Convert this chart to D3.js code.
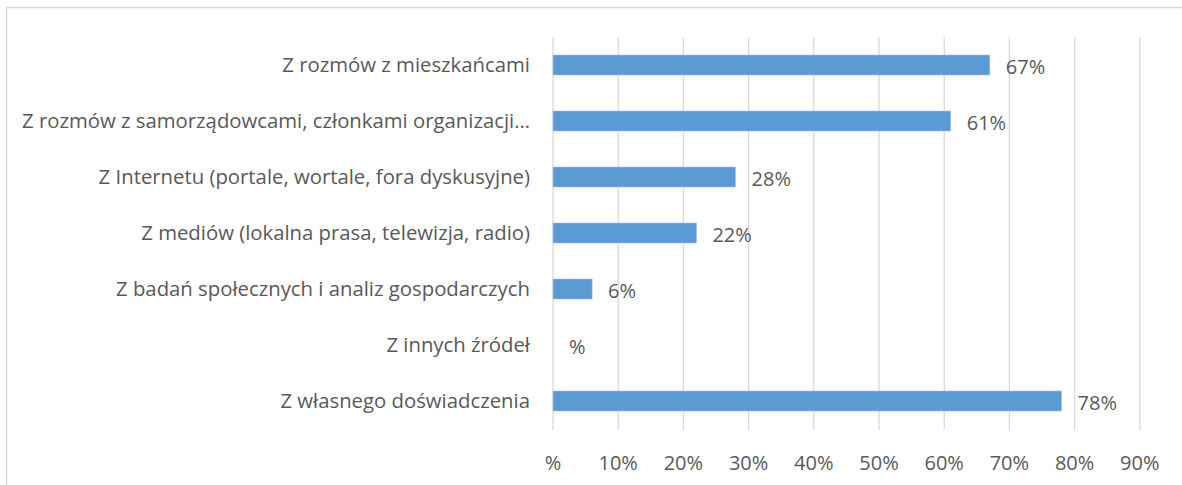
<!DOCTYPE html>
<html>
<head>
<meta charset="utf-8">
<script src="https://cdn.jsdelivr.net/npm/d3@7"></script>
<style>
  html, body { margin: 0; padding: 0; background: #fff; }
  svg text { font-family: "Open Sans", "Noto Sans", sans-serif; fill: #595959; }
</style>
</head>
<body>
<div id="chart"></div>
<script>
var categories = [
    "Z rozmów z mieszkańcami",
    "Z rozmów z samorządowcami, członkami organizacji…",
    "Z Internetu (portale, wortale, fora dyskusyjne)",
    "Z mediów (lokalna prasa, telewizja, radio)",
    "Z badań społecznych i analiz gospodarczych",
    "Z innych źródeł",
    "Z własnego doświadczenia"
];
var values = [67, 61, 28, 22, 6, 0, 78];
var ticks = [0, 10, 20, 30, 40, 50, 60, 70, 80, 90];

var width = 1182, height = 485;
var margin = { top: 37, right: 42, bottom: 56, left: 553 };
var fontSize = "20px";
var fmt = function(v){ return v === 0 ? "%" : v + "%"; };

var svg = d3.select("#chart").append("svg")
    .attr("width", width)
    .attr("height", height);

// chart border
svg.append("rect")
    .attr("x", 6.5).attr("y", 7.5)
    .attr("width", width + 10).attr("height", height + 10)
    .attr("fill", "none")
    .attr("stroke", "#d9d9d9")
    .attr("stroke-width", 1.5);

var x = d3.scaleLinear()
    .domain([0, 90])
    .range([margin.left, margin.left + 65.2 * 9]);

var pad = 36 / 56;
var y = d3.scaleBand()
    .domain(categories)
    .range([margin.top, height - margin.bottom])
    .paddingInner(pad)
    .paddingOuter(pad / 2);

// gridlines
svg.append("g").selectAll("line")
    .data(ticks)
    .enter().append("line")
    .attr("x1", function(d){ return x(d); })
    .attr("x2", function(d){ return x(d); })
    .attr("y1", margin.top)
    .attr("y2", height - margin.bottom + 1)
    .attr("stroke", "#d9d9d9")
    .attr("stroke-width", 1.3);

// tick labels
svg.append("g").selectAll("text")
    .data(ticks)
    .enter().append("text")
    .attr("x", function(d){ return x(d); })
    .attr("y", 463)
    .attr("dy", "0.35em")
    .attr("text-anchor", "middle")
    .style("font-size", fontSize)
    .text(fmt);

// bars
svg.append("g").selectAll("rect")
    .data(values)
    .enter().append("rect")
    .attr("x", x(0))
    .attr("y", function(d, i){ return y(categories[i]); })
    .attr("width", function(d){ return x(d) - x(0); })
    .attr("height", y.bandwidth())
    .attr("fill", "#5b9bd5")
    .attr("stroke", "#9dc3e6")
    .attr("stroke-width", 0.6);

// value labels
svg.append("g").selectAll("text")
    .data(values)
    .enter().append("text")
    .attr("x", function(d){ return x(d) + 16; })
    .attr("y", function(d, i){ return y(categories[i]) + y.bandwidth() / 2 + 2; })
    .attr("dy", "0.35em")
    .style("font-size", fontSize)
    .text(fmt);

// category labels
var labels = svg.append("g").selectAll("text")
    .data(categories)
    .enter().append("text")
    .attr("x", x(0) - 23)
    .attr("y", function(d){ return y(d) + y.bandwidth() / 2; })
    .attr("dy", "0.35em")
    .attr("text-anchor", "end")
    .style("font-size", fontSize)
    .text(function(d){ return d; });

// fit labels so the longest one spans like the original
var longest = d3.max(labels.nodes(), function(n){ return n.getComputedTextLength(); });
var k = 508 / longest;
labels.each(function(){
    var w = this.getComputedTextLength();
    d3.select(this).attr("textLength", w * k).attr("lengthAdjust", "spacingAndGlyphs");
});
</script>
</body>
</html>
